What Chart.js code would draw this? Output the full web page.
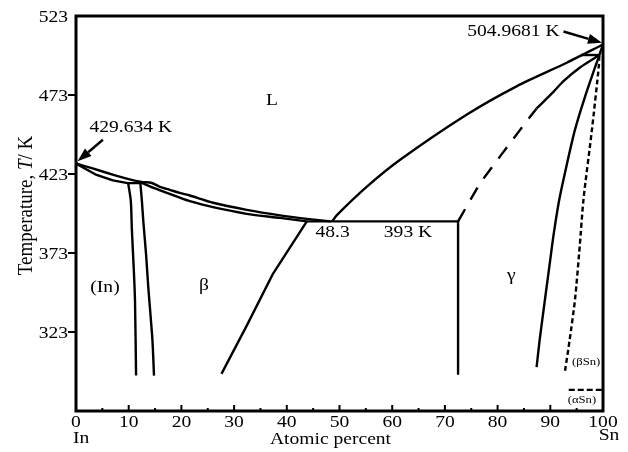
<!DOCTYPE html>
<html>
<head>
<meta charset="utf-8">
<style>
  html, body { margin: 0; padding: 0; background: #fff; }
  #wrap { width: 628px; height: 452px; }
</style>
<script src="https://cdn.jsdelivr.net/npm/chart.js@4.4.0/dist/chart.umd.min.js"></script>
</head>
<body>
<div id="wrap"><canvas id="phase" width="628" height="452"></canvas></div>
<script>
// In-Sn phase diagram, [atomic % Sn, T / K]
const pctTicks = [0, 10, 20, 30, 40, 50, 60, 70, 80, 90, 100];
const tempTicks = [323, 373, 423, 473, 523];

const liquidusIn = [[0, 429.634], [3, 426.7], [7.1, 422.5], [10, 419.8], [12.4, 418], [14.4, 417.3],
  [15.9, 414.9], [17.8, 413], [19.7, 411], [21.6, 409.4], [26, 404.8], [32.4, 400.3],
  [38.7, 396.8], [43.8, 394.6], [48.3, 393]];
const solidusIn = [[0, 429.634], [3.9, 422.4], [7, 419], [9.8, 417.2], [12.4, 417.2]];
const solidusBeta = [[12.4, 417.6], [14, 415.2], [16.6, 411.9], [19.7, 408], [21.6, 405.8],
  [26, 402], [32.4, 397.8], [38.7, 395.2], [43.8, 393]];
const solvusIn = [[9.9, 417.2], [10.4, 406], [10.6, 388], [11, 360], [11.2, 342], [11.4, 295.4]];
const betaLeft = [[12.2, 417.6], [12.5, 406], [12.8, 392], [13.3, 372], [13.7, 352], [14.5, 318], [14.8, 295.4]];
const betaRight = [[27.6, 296.5], [32.4, 327], [37.4, 360], [43.8, 393]];
const eutectic = [[43.8, 393], [72.5, 393]];
const gammaLeft = [[72.5, 393], [72.5, 296.5]];
const liquidusSn = [[48.6, 393], [49.5, 397], [55.2, 415], [61.5, 432], [74.1, 460.5],
  [83.6, 478.5], [93.1, 493.4], [100, 504.9681]];
const gammaUpperDash = [[72.5, 393], [76.7, 417.4], [80.5, 434.3], [84.3, 451.1], [87.4, 464.5]];
const gammaUpper = [[87.4, 464.5], [90.6, 475], [92.5, 481.8], [95.7, 490.6], [99.3, 498.3]];
const gammaRight = [[87.4, 300.7], [88, 318.5], [89, 343.9], [90, 369], [90.6, 384], [91.6, 405],
  [92.6, 421], [94.6, 450], [96.6, 472], [99.3, 498.3]];
const betaSn = [[92.8, 298.5], [93.7, 318.6], [94.7, 343.9], [95.6, 378], [96.3, 407],
  [97.9, 451], [99.2, 491], [99.3, 498.3]];
const peritectic = [[95.8, 498.3], [99.3, 498.3]];
const solidusSn = [[99.3, 498.3], [100, 504.9681]];
const alphaSn = [[93.5, 286.4], [100, 286.4]];

// labels placed in data coordinates
const notes = [
  { text: "L", x: 37.2, y: 469.4 },
  { text: "429.634 K", x: 10.4, y: 452.6 },
  { text: "504.9681 K", x: 83.0, y: 513.4 },
  { text: "48.3", x: 48.7, y: 386.0 },
  { text: "393 K", x: 63.0, y: 386.0 },
  { text: "(In)", x: 5.5, y: 351.2 },
  { text: "\u03b2", x: 24.3, y: 352.5 },
  { text: "\u03b3", x: 82.6, y: 358.5 },
  { text: "(\u03b2Sn)", x: 96.8, y: 303.9, small: true },
  { text: "(\u03b1Sn)", x: 96.0, y: 279.8, small: true },
];
const arrows = [
  { from: [5.1, 444.7], to: [0.3, 431] },
  { from: [92.5, 513.2], to: [99.8, 506] },
];

const SERIF = "'Liberation Serif', 'Times New Roman', serif";
const STRETCH = 1.15;

function pts(arr) {
  return arr.map(function (p) { return { x: p[0], y: p[1] }; });
}

function line(arr, dash, curve) {
  return {
    data: pts(arr),
    showLine: true,
    borderColor: "#000",
    borderWidth: 2.4,
    borderDash: dash || [],
    borderJoinStyle: "round",
    pointRadius: 0,
    pointHoverRadius: 0,
    fill: false,
    tension: curve ? 0.25 : 0,
  };
}

function text(ctx, str, x, y, align, font) {
  ctx.save();
  ctx.font = font;
  ctx.textAlign = align;
  ctx.textBaseline = "middle";
  ctx.translate(x, y);
  ctx.scale(STRETCH, 1);
  ctx.fillText(str, 0, 0);
  ctx.restore();
}

const decor = {
  id: "decor",
  afterDraw: function (chart) {
    const ctx = chart.ctx;
    const a = chart.chartArea;
    const xs = chart.scales.x;
    const ys = chart.scales.y;
    const X = function (v) { return xs.getPixelForValue(v); };
    const Y = function (v) { return ys.getPixelForValue(v); };
    const font = "17px " + SERIF;

    ctx.save();
    ctx.fillStyle = "#000";
    ctx.strokeStyle = "#000";

    // frame
    ctx.lineWidth = 3;
    ctx.strokeRect(a.left, a.top, a.right - a.left, a.bottom - a.top);

    // y ticks (outside) and labels
    ctx.lineWidth = 2;
    ys.ticks.forEach(function (t) {
      const py = Y(t.value);
      if (t.value < 523) {
        ctx.beginPath();
        ctx.moveTo(a.left - 8, py);
        ctx.lineTo(a.left, py);
        ctx.stroke();
      }
      text(ctx, String(t.value), a.left - 8, py + 1.5, "right", font);
    });

    // x ticks (inside) with minor ticks between, and labels
    xs.ticks.forEach(function (t, i) {
      const px = X(t.value);
      if (t.value > 0 && t.value < 100) {
        ctx.beginPath();
        ctx.moveTo(px, a.bottom);
        ctx.lineTo(px, a.bottom - 6);
        ctx.stroke();
      }
      if (i > 0) {
        const mx = X((t.value + xs.ticks[i - 1].value) / 2);
        ctx.beginPath();
        ctx.moveTo(mx, a.bottom);
        ctx.lineTo(mx, a.bottom - 3);
        ctx.stroke();
      }
      text(ctx, String(t.value), px, a.bottom + 11.5, "center", font);
    });

    // axis titles and end labels
    text(ctx, "In", X(0) - 3, a.bottom + 28, "left", font);
    text(ctx, "Sn", X(100) + 6, a.bottom + 25, "center", font);
    text(ctx, "Atomic percent", (a.left + a.right) / 2 - 9, a.bottom + 29, "center", font);

    ctx.save();
    ctx.translate(26, (a.top + a.bottom) / 2 - 8);
    ctx.rotate(-Math.PI / 2);
    ctx.scale(1, STRETCH);
    ctx.textBaseline = "middle";
    ctx.textAlign = "left";
    const fN = "19px " + SERIF;
    const fI = "italic 19px " + SERIF;
    const parts = [["Temperature, ", fN], ["T", fI], ["/ K", fN]];
    let total = 0;
    parts.forEach(function (p) { ctx.font = p[1]; total += ctx.measureText(p[0]).width; });
    let cx = -total / 2;
    parts.forEach(function (p) {
      ctx.font = p[1];
      ctx.fillText(p[0], cx, 0);
      cx += ctx.measureText(p[0]).width;
    });
    ctx.restore();

    // region labels and temperatures
    notes.forEach(function (n) {
      text(ctx, n.text, X(n.x), Y(n.y), "center", n.small ? "11px " + SERIF : font);
    });

    // arrows
    arrows.forEach(function (ar) {
      const x0 = X(ar.from[0]), y0 = Y(ar.from[1]);
      const x1 = X(ar.to[0]), y1 = Y(ar.to[1]);
      const ang = Math.atan2(y1 - y0, x1 - x0);
      const len = 14, half = 5;
      const bx = x1 - len * Math.cos(ang), by = y1 - len * Math.sin(ang);
      ctx.lineWidth = 2.4;
      ctx.beginPath();
      ctx.moveTo(x0, y0);
      ctx.lineTo(bx, by);
      ctx.stroke();
      ctx.beginPath();
      ctx.moveTo(x1, y1);
      ctx.lineTo(bx + half * Math.sin(ang), by - half * Math.cos(ang));
      ctx.lineTo(bx - half * Math.sin(ang), by + half * Math.cos(ang));
      ctx.closePath();
      ctx.fill();
    });

    ctx.restore();
  },
};

new Chart(document.getElementById("phase"), {
  type: "scatter",
  data: {
    datasets: [
      line(liquidusIn, null, true),
      line(solidusIn, null, false),
      line(solidusBeta, null, true),
      line(solvusIn, null, true),
      line(betaLeft, null, true),
      line(betaRight, null, false),
      line(eutectic),
      line(gammaLeft),
      line(liquidusSn, null, true),
      line(gammaUpperDash, [14, 11], false),
      line(gammaUpper, null, true),
      line(gammaRight, null, true),
      line(betaSn, [5, 3], true),
      line(peritectic),
      line(solidusSn),
      line(alphaSn, [6, 3]),
    ],
  },
  options: {
    responsive: false,
    animation: false,
    devicePixelRatio: 1,
    layout: { padding: { top: 16, right: 25, left: 0, bottom: 0 } },
    plugins: { legend: { display: false }, tooltip: { enabled: false } },
    events: [],
    scales: {
      x: {
        type: "linear",
        min: 0,
        max: 100,
        grid: { display: false, drawTicks: false },
        border: { display: false },
        ticks: { display: false },
        afterBuildTicks: function (s) { s.ticks = pctTicks.map(function (v) { return { value: v }; }); },
        afterFit: function (s) { s.height = 41; },
      },
      y: {
        type: "linear",
        min: 273,
        max: 523,
        grid: { display: false, drawTicks: false },
        border: { display: false },
        ticks: { display: false },
        afterBuildTicks: function (s) { s.ticks = tempTicks.map(function (v) { return { value: v }; }); },
        afterFit: function (s) { s.width = 76; },
      },
    },
  },
  plugins: [decor],
});
</script>
</body>
</html>
